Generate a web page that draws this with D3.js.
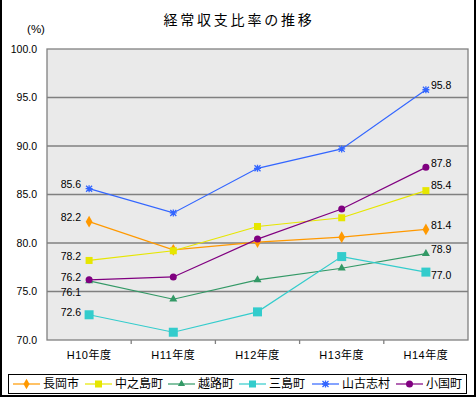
<!DOCTYPE html>
<html>
<head>
<meta charset="utf-8">
<script src="https://cdn.jsdelivr.net/npm/d3@7"></script>
<style>
  body { margin: 0; background: #fff; }
  svg text { font-family: "Liberation Sans", "Noto Sans CJK JP", sans-serif; fill: #000; }
  .jp { font-family: "Noto Sans CJK JP", sans-serif; }
</style>
</head>
<body>
<div id="chart"></div>
<script>
const width = 476, height = 398;

// data
const years = ["H10年度", "H11年度", "H12年度", "H13年度", "H14年度"];
const towns = ["長岡市", "中之島町", "越路町", "三島町", "山古志村", "小国町"];
const nagaoka   = [82.2, 79.3, 80.1, 80.6, 81.4];
const nakanoshima = [78.2, 79.2, 81.7, 82.6, 85.4];
const koshiji   = [76.1, 74.2, 76.2, 77.4, 78.9];
const mishima   = [72.6, 70.8, 72.9, 78.6, 77.0];
const yamakoshi = [85.6, 83.1, 87.7, 89.7, 95.8];
const oguni     = [76.2, 76.5, 80.4, 83.5, 87.8];
const yTicks = [70, 75, 80, 85, 90, 95, 100];

const allValues = [nagaoka, nakanoshima, koshiji, mishima, yamakoshi, oguni];
const colors = ["#ff9900", "#e6e600", "#339966", "#33cccc", "#3366ff", "#800080"];
const symbols = ["diamond", "square", "triangle", "bigsquare", "star", "circle"];

// little nudges so labels don't collide (px)
const firstNudge = [-4, -4, 11, -2, -4, -2.5];
const lastNudge  = [-4, -5, -4, 3, -4, -4];

const series = towns.map((t, i) => ({ name: t, values: allValues[i], color: colors[i], sym: symbols[i] }));

const svg = d3.select("#chart").append("svg")
  .attr("width", width).attr("height", height);

// outer frame (left, right, bottom)
svg.append("path")
  .attr("d", "M1,0 V396 H475 V0")
  .attr("fill", "none").attr("stroke", "#000").attr("stroke-width", 2);

const plot = { left: 47, right: 468, top: 49, bottom: 340 };

const xb = d3.scaleBand().domain(years).range([plot.left, plot.right]);
const xc = d => xb(d) + xb.bandwidth() / 2;
const y = d3.scaleLinear().domain([70, 100]).range([plot.bottom, plot.top]);

svg.append("rect")
  .attr("x", plot.left).attr("y", plot.top)
  .attr("width", plot.right - plot.left).attr("height", plot.bottom - plot.top)
  .attr("fill", "#eaeaea").attr("stroke", "#808080").attr("stroke-width", 1.3);

// gridlines
svg.append("g").selectAll("line")
  .data(yTicks.slice(1, -1))
  .enter().append("line")
  .attr("x1", plot.left).attr("x2", plot.right)
  .attr("y1", d => y(d)).attr("y2", d => y(d))
  .attr("stroke", "#808080").attr("stroke-width", 1.3);

// y tick labels
svg.append("g").selectAll("text")
  .data(yTicks)
  .enter().append("text")
  .attr("x", 37).attr("y", d => y(d)).attr("dy", "0.35em")
  .attr("text-anchor", "end").attr("font-size", 10.5)
  .text(d => d.toFixed(1));

// x ticks at band edges
svg.append("g").selectAll("line")
  .data(years.slice(1))
  .enter().append("line")
  .attr("x1", d => xb(d)).attr("x2", d => xb(d))
  .attr("y1", plot.bottom).attr("y2", plot.bottom + 4)
  .attr("stroke", "#808080").attr("stroke-width", 1.3);

svg.append("g").selectAll("text")
  .data(years)
  .enter().append("text")
  .attr("x", d => xc(d)).attr("y", 355).attr("dy", "0.35em")
  .attr("text-anchor", "middle").attr("font-size", 11).attr("letter-spacing", 0.5)
  .text(d => d);

// title
svg.append("text").attr("class", "jp")
  .attr("x", 239).attr("y", 20).attr("dy", "0.35em")
  .attr("text-anchor", "middle").attr("font-size", 14).attr("letter-spacing", 2.8)
  .text("経常収支比率の推移");

svg.append("text")
  .attr("x", 36).attr("y", 29).attr("dy", "0.35em")
  .attr("text-anchor", "middle").attr("font-size", 11.5)
  .text("(%)");

function drawMarker(g, sym, color, cx, cy, scale) {
  const k = scale || 1;
  if (sym === "diamond") {
    g.append("path").attr("d", d3.symbol(d3.symbolDiamond, 40 * k)())
      .attr("transform", `translate(${cx},${cy})`).attr("fill", color);
  } else if (sym === "square") {
    g.append("rect").attr("x", cx - 3.5).attr("y", cy - 3.5).attr("width", 7).attr("height", 7).attr("fill", color);
  } else if (sym === "bigsquare") {
    const s = k < 1 ? 7 : 9;
    g.append("rect").attr("x", cx - s / 2).attr("y", cy - s / 2).attr("width", s).attr("height", s).attr("fill", color);
  } else if (sym === "triangle") {
    g.append("path").attr("d", d3.symbol(d3.symbolTriangle, 28 * k)())
      .attr("transform", `translate(${cx},${cy})`).attr("fill", color);
  } else if (sym === "star") {
    g.append("path").attr("d", "M-3,-3L3,3M-3,3L3,-3M0,-3.5V3.5M-3.5,0H3.5")
      .attr("transform", `translate(${cx},${cy})`).attr("stroke", color).attr("stroke-width", 1.3);
  } else if (sym === "circle") {
    g.append("circle").attr("cx", cx).attr("cy", cy).attr("r", 3.5).attr("fill", color);
  }
}

const line = d3.line().x((d, i) => xc(years[i])).y(d => y(d));

series.forEach((s, si) => {
  const g = svg.append("g");
  g.append("path").datum(s.values)
    .attr("d", line).attr("fill", "none")
    .attr("stroke", s.color).attr("stroke-width", 1.2);
  s.values.forEach((v, i) => drawMarker(g, s.sym, s.color, xc(years[i]), y(v)));

  const v0 = s.values[0], vN = s.values[s.values.length - 1];
  g.append("text")
    .attr("x", xc(years[0]) - 8).attr("y", y(v0) + firstNudge[si]).attr("dy", "0.35em")
    .attr("text-anchor", "end").attr("font-size", 10.5)
    .text(v0.toFixed(1));
  g.append("text")
    .attr("x", xc(years[years.length - 1]) + 5).attr("y", y(vN) + lastNudge[si]).attr("dy", "0.35em")
    .attr("font-size", 10.5)
    .text(vN.toFixed(1));
});

// legend
const legendX = [13, 85, 168, 239, 312, 396];
const ly = 384;
svg.append("rect")
  .attr("x", 8.5).attr("y", 374.5).attr("width", 458).attr("height", 19)
  .attr("fill", "#fff").attr("stroke", "#000").attr("stroke-width", 1);

series.forEach((s, i) => {
  const g = svg.append("g");
  const x0 = legendX[i];
  g.append("line").attr("x1", x0).attr("x2", x0 + 27).attr("y1", ly).attr("y2", ly)
    .attr("stroke", s.color).attr("stroke-width", 1.2);
  drawMarker(g, s.sym, s.color, x0 + 13.5, ly, 0.8);
  g.append("text").attr("class", "jp")
    .attr("x", x0 + 30).attr("y", ly).attr("dy", "0.35em")
    .attr("font-size", 12)
    .text(s.name);
});
</script>
</body>
</html>
